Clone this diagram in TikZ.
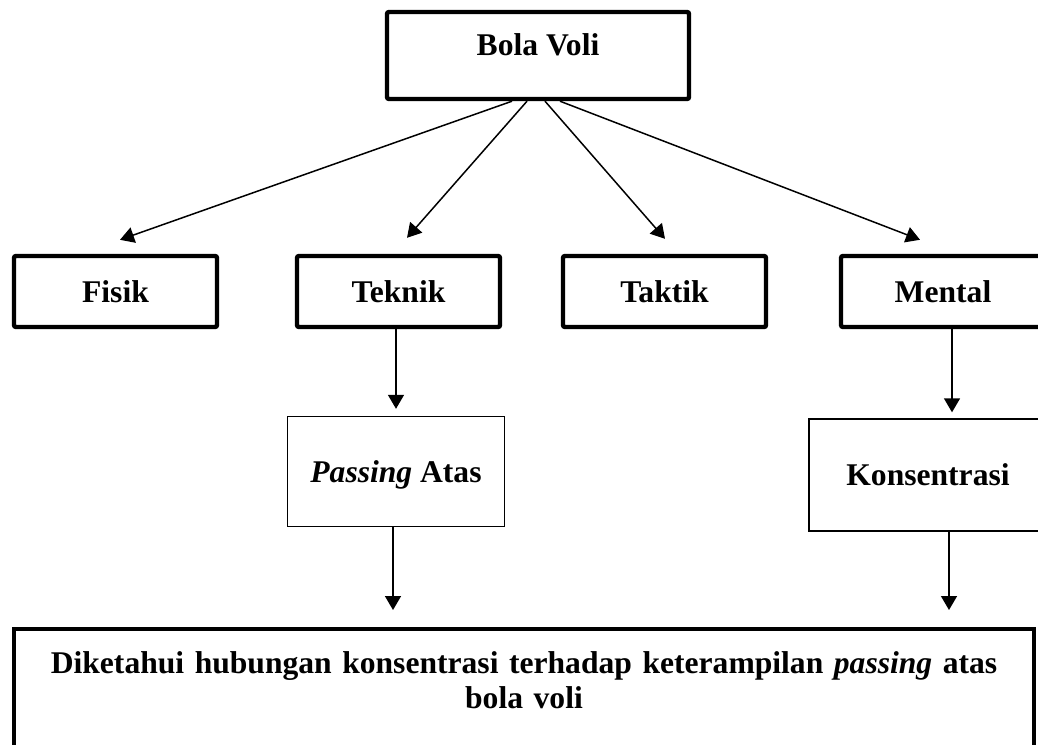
\documentclass[tikz,border=0pt]{standalone}
\usepackage{fontspec}
\setmainfont{Liberation Serif}
\usetikzlibrary{arrows.meta,positioning,calc}
\tikzset{
  topbox/.style={draw=black,line width=2.2pt,rounded corners=1pt,minimum width=101.5pt,minimum height=35.5pt,
    inner sep=0pt,font=\fontsize{15.8}{17.5}\selectfont\bfseries},
  subbox/.style={draw=black,line width=0.7pt,inner sep=0pt,font=\fontsize{15.8}{17.5}\selectfont\bfseries},
  resultbox/.style={draw=black,line width=2pt,inner sep=0pt,align=center,
    font=\fontsize{15.8}{17.5}\selectfont\bfseries},
  arrowline/.style={-{Triangle[length=7pt,width=8pt]},line width=0.75pt,draw=black}
}

\begin{document}
\begin{tikzpicture}[x=0.5pt,y=-0.5pt]
  \useasboundingbox (0,0) rectangle (1038,744);
  \clip (0,0) rectangle (1038,744);
  \node[topbox,minimum width=151pt,minimum height=0pt,text height=21.5pt,text depth=22pt] (bola) at (538,55.5) {Bola Voli};
  \node[topbox] (fisik) at (115.5,291.5) {Fisik};
  \node[topbox] (teknik) at (398.5,291.5) {Teknik};
  \node[topbox] (taktik) at (664.5,291.5) {Taktik};
  \node[topbox,minimum width=102pt] (mental) at (943,291.5) {Mental};
  \node[subbox,minimum width=108.5pt,minimum height=55pt,text depth=0pt] (passing) at (396,471.5) {\textit{Passing} Atas};
  \node[subbox,minimum width=119pt,minimum height=56pt] (konsen) at (928,475) {Konsentrasi};
  \node[resultbox,anchor=north,text width=510pt,text height=22pt,text depth=44pt] (hasil) at (524,627)
    {Diketahui hubungan konsentrasi terhadap keterampilan \textit{passing} atas\\bola voli};
  \draw[arrowline] ([xshift=-13pt]bola.south) -- ([xshift=2.25pt,yshift=7pt]fisik.north);
  \draw[arrowline] ([xshift=-5.5pt]bola.south) -- ([xshift=4.25pt,yshift=8pt]teknik.north);
  \draw[arrowline] ([xshift=3.5pt]bola.south) -- ([xshift=0.25pt,yshift=7.5pt]taktik.north);
  \draw[arrowline] ([xshift=11pt]bola.south) -- ([xshift=-11.5pt,yshift=7pt]mental.north);
  \draw[arrowline] ([xshift=-1.25pt]teknik.south) -- ([yshift=3.5pt]passing.north);
  \draw[arrowline] ([xshift=4.5pt]mental.south) -- ([xshift=12pt,yshift=3pt]konsen.north);
  \draw[arrowline] ([xshift=-1.5pt]passing.south) -- ([xshift=-65.5pt,yshift=8.5pt]hasil.north);
  \draw[arrowline] ([xshift=10.5pt]konsen.south) -- ([xshift=212.5pt,yshift=8.5pt]hasil.north);
\end{tikzpicture}
\end{document}
